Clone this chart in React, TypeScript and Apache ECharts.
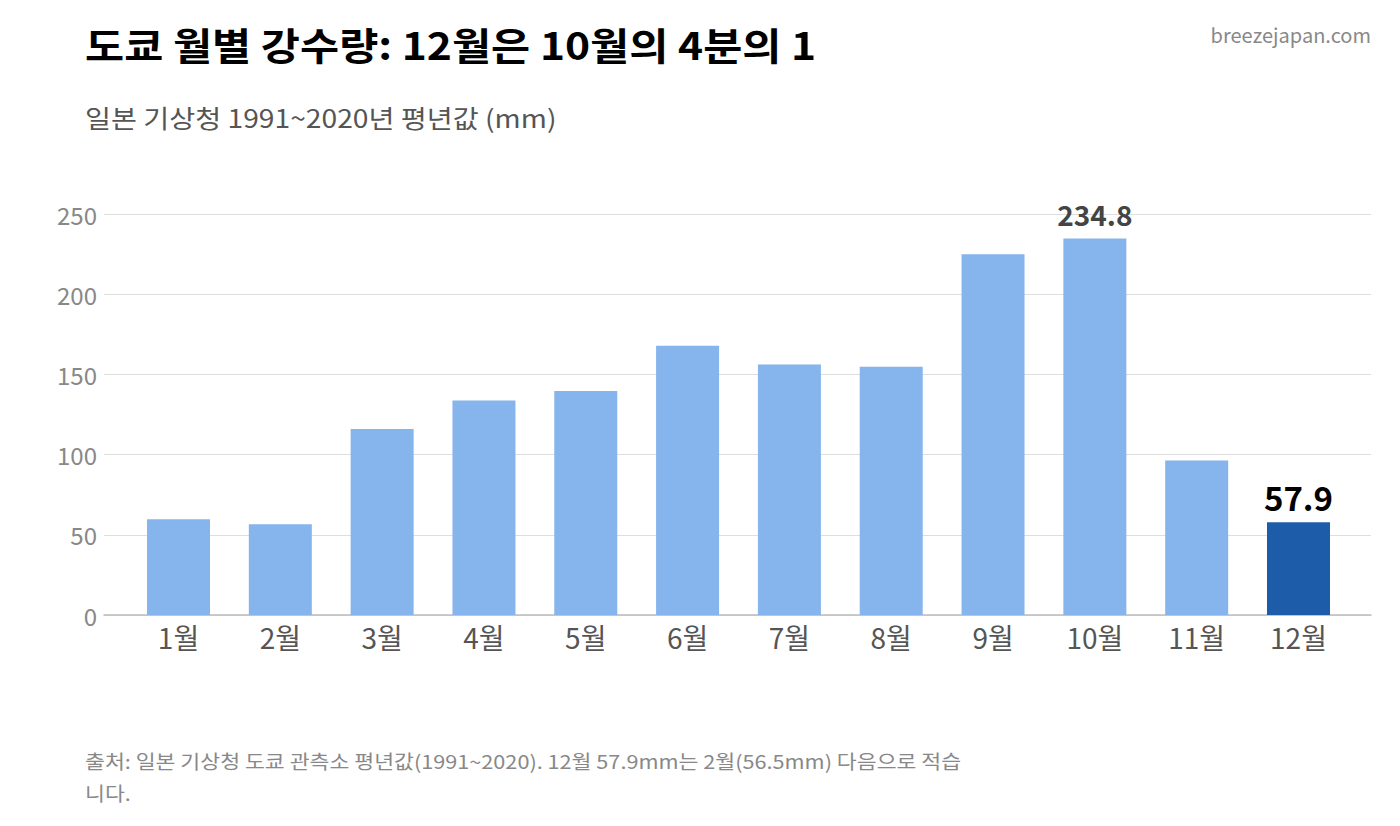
import React, { useEffect, useRef } from "react";
import * as echarts from "echarts";

const months = ["1월", "2월", "3월", "4월", "5월", "6월", "7월", "8월", "9월", "10월", "11월", "12월"];
const rainfall = [59.7, 56.5, 116.0, 133.7, 139.7, 167.8, 156.2, 154.7, 224.9, 234.8, 96.3, 57.9];
const labelledMonths = ["10월", "12월"];
const highlightMonth = "12월";
const yTicks = { min: 0, max: 250, interval: 50 };

const titleText = "도쿄 월별 강수량: 12월은 10월의 4분의 1";
const subtitleText = "일본 기상청 1991~2020년 평년값 (mm)";
const sourceText = "출처: 일본 기상청 도쿄 관측소 평년값(1991~2020). 12월 57.9mm는 2월(56.5mm) 다음으로 적습\n니다.";
const siteText = "breezejapan.com";

const FONT = "'Noto Sans CJK KR', 'Noto Sans', sans-serif";

export default function App() {
  const ref = useRef<HTMLDivElement>(null);

  useEffect(() => {
    if (!ref.current) return;
    const chart = echarts.init(ref.current, undefined, { renderer: "svg" });

    const barData = months.map((m, i) => {
      const isHi = m === highlightMonth;
      const showLabel = labelledMonths.includes(m);
      return {
        value: rainfall[i],
        itemStyle: { color: isHi ? "#1C5CA8" : "#86B4EC" },
        label: showLabel
          ? {
              show: true,
              position: "top",
              distance: isHi ? 9 : 10,
              formatter: (p: any) => p.value.toFixed(1),
              fontFamily: FONT,
              fontWeight: "bold",
              fontSize: isHi ? 33 : 28,
              color: isHi ? "#000000" : "#444444",
            }
          : { show: false },
      };
    });

    chart.setOption({
      animation: false,
      backgroundColor: "#ffffff",
      textStyle: { fontFamily: FONT },
      grid: [
        { left: 104, right: 29, top: 214, bottom: 211 },
        { left: 127.6, right: 50.6, top: 214, bottom: 211 },
      ],
      xAxis: [
        {
          gridIndex: 0,
          type: "value",
          min: 0,
          max: 1,
          axisLine: { show: true, lineStyle: { color: "#bdbdbd", width: 1.5 } },
          axisTick: { show: false },
          axisLabel: { show: false },
          splitLine: { show: false },
        },
        {
          gridIndex: 1,
          type: "category",
          data: months,
          axisLine: { show: false },
          axisTick: { show: false },
          axisLabel: { color: "#555555", fontSize: 28, margin: 8, fontFamily: FONT },
        },
      ],
      yAxis: [
        {
          gridIndex: 0,
          type: "value",
          ...yTicks,
          axisLine: { show: false },
          axisTick: { show: false },
          axisLabel: { color: "#888888", fontSize: 24, margin: 7, fontFamily: FONT },
          splitLine: { lineStyle: { color: "#dedede", width: 1 } },
        },
        {
          gridIndex: 1,
          type: "value",
          ...yTicks,
          show: false,
          splitLine: { show: false },
        },
      ],
      series: [
        {
          type: "bar",
          xAxisIndex: 1,
          yAxisIndex: 1,
          barWidth: 63,
          data: barData,
        },
      ],
      graphic: [
        {
          type: "text",
          left: 85,
          top: 25,
          scaleX: 1.12,
          style: { text: titleText, font: `bold 38px ${FONT}`, fill: "#000000" },
        },
        {
          type: "text",
          left: 85,
          top: 105,
          scaleX: 1.13,
          style: { text: subtitleText, font: `25px ${FONT}`, fill: "#555555" },
        },
        {
          type: "text",
          right: 29,
          top: 24,
          style: { text: siteText, font: `20px ${FONT}`, fill: "#888888" },
        },
        {
          type: "text",
          left: 85,
          top: 745,
          scaleX: 1.14,
          style: { text: sourceText, font: `19px ${FONT}`, fill: "#888888", lineHeight: 32 },
        },
      ],
    });

    return () => chart.dispose();
  }, []);

  return <div ref={ref} style={{ width: 1400, height: 826, position: "absolute", left: 0, top: 0 }} />;
}
